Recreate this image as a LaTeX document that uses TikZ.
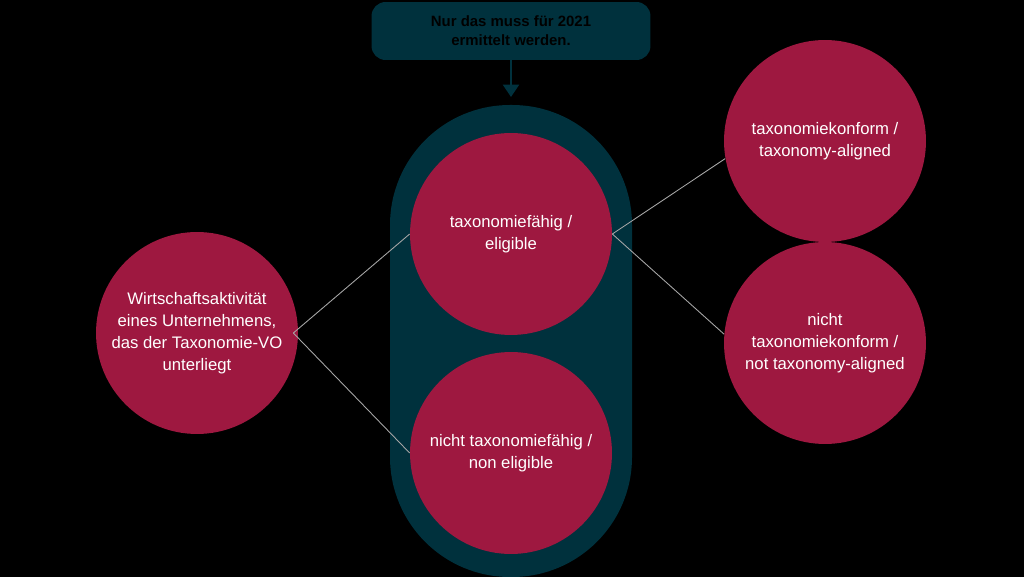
\documentclass[tikz,border=0pt]{standalone}
\usepackage{fontspec}
\setmainfont{Liberation Sans}
\usetikzlibrary{arrows.meta}
\definecolor{wine}{HTML}{9E1840}
\definecolor{petrol}{HTML}{00313D}
\tikzset{
  topic/.style={circle, fill=wine, minimum size=4.04cm, inner sep=0pt, text=white, align=center, font=\fontsize{9.5}{12.5}\selectfont},
  link/.style={draw=gray!70, line width=0.5pt}
}
\begin{document}
\begin{tikzpicture}[x=0.02cm, y=-0.02cm]
\fill[black] (0,0) rectangle (1024,577);
\useasboundingbox (0,0) rectangle (1024,577);
% capsule behind the middle circles
\fill[petrol, rounded corners=2.4cm] (390,105) rectangle (632,577);
\node[topic] (act) at (197,333) {Wirtschaftsaktivität\\eines Unternehmens,\\das der Taxonomie-VO\\unterliegt};
\node[topic] (elig) at (511,234) {taxonomiefähig /\\eligible};
\node[topic] (nonelig) at (511,453) {nicht taxonomiefähig /\\non eligible};
\node[topic] (align) at (825,141) {taxonomiekonform /\\taxonomy-aligned};
\node[topic] (nonalign) at (825,343) {nicht\\taxonomiekonform /\\not taxonomy-aligned};
\node[fill=petrol, rounded corners=8pt, minimum width=5.58cm, minimum height=1.16cm, align=center,
  font=\bfseries\fontsize{8.5}{11}\selectfont, text=black] (note) at (511,31) {Nur das muss für 2021\\ermittelt werden.};
\coordinate (cap) at (511,97);
\draw[petrol, line width=1.5pt, -{Triangle[length=7pt,width=9pt]}] (note) -- (cap);
% connectors
\draw[link] (act.east) ++(-5,0) -- (elig.west);
\draw[link] (act.east) ++(-5,0) -- (nonelig.west);
\draw[link] (elig.east) -- (align.190);
\draw[link] (elig.east) -- (nonalign.175);
\end{tikzpicture}
\end{document}
